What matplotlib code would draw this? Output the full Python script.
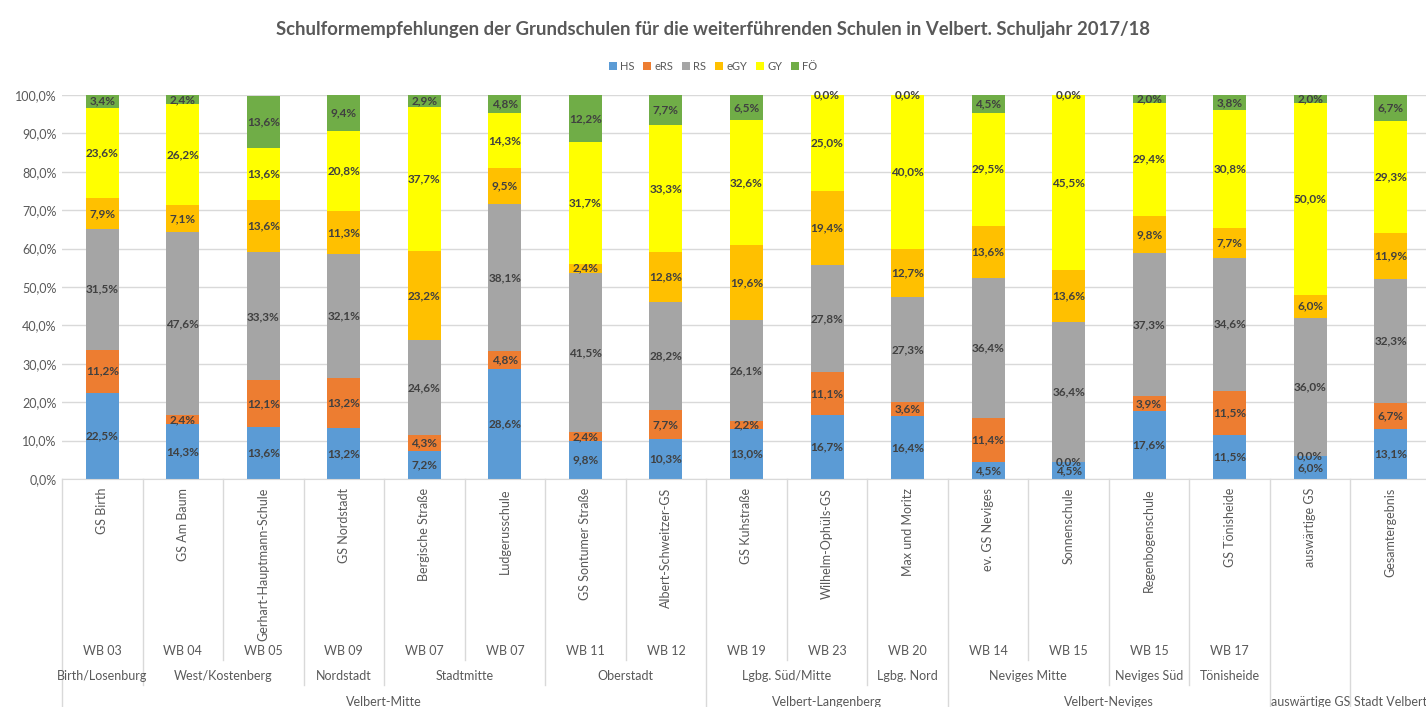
import matplotlib
matplotlib.use("Agg")
import matplotlib.pyplot as plt
import matplotlib.transforms as mtransforms
from matplotlib.patches import Patch
import numpy as np

plt.rcParams['font.family'] = ['Lato', 'DejaVu Sans']

schools = ["GS Birth", "GS Am Baum", "Gerhart-Hauptmann-Schule", "GS Nordstadt",
           "Bergische Straße", "Ludgerusschule", "GS Sontumer Straße", "Albert-Schweitzer-GS",
           "GS Kuhstraße", "Wilhelm-Ophüls-GS", "Max und Moritz", "ev. GS Neviges",
           "Sonnenschule", "Regenbogenschule", "GS Tönisheide", "auswärtige GS", "Gesamtergebnis"]
wb = ["WB 03", "WB 04", "WB 05", "WB 09", "WB 07", "WB 07", "WB 11", "WB 12",
      "WB 19", "WB 23", "WB 20", "WB 14", "WB 15", "WB 15", "WB 17", "", ""]
# (label, first index, last index)
districts = [("Birth/Losenburg", 0, 0), ("West/Kostenberg", 1, 2), ("Nordstadt", 3, 3),
             ("Stadtmitte", 4, 5), ("Oberstadt", 6, 7), ("Lgbg. Süd/Mitte", 8, 9),
             ("Lgbg. Nord", 10, 10), ("Neviges Mitte", 11, 12), ("Neviges Süd", 13, 13),
             ("Tönisheide", 14, 14), ("", 15, 15), ("", 16, 16)]
regions = [("Velbert-Mitte", 0, 7), ("Velbert-Langenberg", 8, 10), ("Velbert-Neviges", 11, 14),
           ("auswärtige GS", 15, 15), ("Stadt Velbert", 16, 16)]

series = ["HS", "eRS", "RS", "eGY", "GY", "FÖ"]
colors = ["#5B9BD5", "#ED7D31", "#A5A5A5", "#FFC000", "#FFFF00", "#70AD47"]

hs  = [22.5, 14.3, 13.6, 13.2, 7.2, 28.6, 9.8, 10.3, 13.0, 16.7, 16.4, 4.5, 4.5, 17.6, 11.5, 6.0, 13.1]
ers = [11.2, 2.4, 12.1, 13.2, 4.3, 4.8, 2.4, 7.7, 2.2, 11.1, 3.6, 11.4, 0.0, 3.9, 11.5, 0.0, 6.7]
rs  = [31.5, 47.6, 33.3, 32.1, 24.6, 38.1, 41.5, 28.2, 26.1, 27.8, 27.3, 36.4, 36.4, 37.3, 34.6, 36.0, 32.3]
egy = [7.9, 7.1, 13.6, 11.3, 23.2, 9.5, 2.4, 12.8, 19.6, 19.4, 12.7, 13.6, 13.6, 9.8, 7.7, 6.0, 11.9]
gy  = [23.6, 26.2, 13.6, 20.8, 37.7, 14.3, 31.7, 33.3, 32.6, 25.0, 40.0, 29.5, 45.5, 29.4, 30.8, 50.0, 29.3]
foe = [3.4, 2.4, 13.6, 9.4, 2.9, 4.8, 12.2, 7.7, 6.5, 0.0, 0.0, 4.5, 0.0, 2.0, 3.8, 2.0, 6.7]
values = [hs, ers, rs, egy, gy, foe]

W, H = 1426, 707
fig = plt.figure(figsize=(W / 100, H / 100), dpi=100)
ax = fig.add_axes([62 / W, (H - 479) / H, 1369 / W, 384 / H])

x = np.arange(len(schools))
bottom = np.zeros(len(schools))
for name, vals, col in zip(series, values, colors):
    vals = np.array(vals)
    ax.bar(x, vals, 0.41, bottom=bottom, color=col, label=name, zorder=2)
    for xi, b, v in zip(x, bottom, vals):
        ax.text(xi, b + v / 2, f"{v:.1f}%".replace(".", ","), ha="center", va="center",
                fontsize=8.5, fontweight="bold", color="#404040", zorder=3)
    bottom += vals

ax.set_xlim(-0.5, len(schools) - 0.5)
ax.set_ylim(0, 100)
ax.set_yticks(np.arange(0, 101, 10))
ax.set_yticklabels([f"{v:.1f}%".replace(".", ",") for v in range(0, 101, 10)],
                   fontsize=9, color="#595959")
ax.yaxis.grid(True, color="#D9D9D9", linewidth=1, zorder=0)
ax.tick_params(axis="y", length=0, pad=4)
ax.tick_params(axis="x", length=0)
ax.set_xticks([])
for s in ["top", "right", "left"]:
    ax.spines[s].set_visible(False)
ax.spines["bottom"].set_color("#D9D9D9")

# multi-level category axis
tr = mtransforms.blended_transform_factory(ax.transData, ax.transAxes)
def ya(py):
    return -(py - 479) / 384

for i, s in enumerate(schools):
    ax.text(i, ya(488), s, rotation=90, ha="center", va="top", fontsize=9,
            color="#595959", transform=tr)
    ax.text(i, ya(651), wb[i], ha="center", va="center", fontsize=9,
            color="#595959", transform=tr)
for label, a, b in districts:
    ax.text((a + b) / 2, ya(676), label, ha="center", va="center", fontsize=9,
            color="#595959", transform=tr)
for label, a, b in regions:
    ax.text((a + b) / 2, ya(702), label, ha="center", va="center", fontsize=9,
            color="#595959", transform=tr)

district_edges = {a for _, a, _ in districts}
region_edges = {a for _, a, _ in regions} | {len(schools)}
for k in range(len(schools) + 1):
    if k in region_edges:
        end = 712
    elif k in district_edges:
        end = 685
    else:
        end = 660
    ax.plot([k - 0.5, k - 0.5], [0, ya(end)], color="#D9D9D9", linewidth=1,
            transform=tr, clip_on=False)

fig.text(0.5, (H - 29) / H, "Schulformempfehlungen der Grundschulen für die weiterführenden Schulen in Velbert. Schuljahr 2017/18",
         ha="center", va="center", fontsize=13.3, fontweight="bold", color="#595959")
handles = [Patch(facecolor=c, label=n) for n, c in zip(series, colors)]
fig.legend(handles=handles, loc="center", bbox_to_anchor=(0.5, (H - 66) / H), ncol=6,
           frameon=False, fontsize=8, handlelength=0.7, handleheight=0.7,
           handletextpad=0.3, columnspacing=0.8, labelcolor="#595959")

fig.savefig("out.png", dpi=100)
